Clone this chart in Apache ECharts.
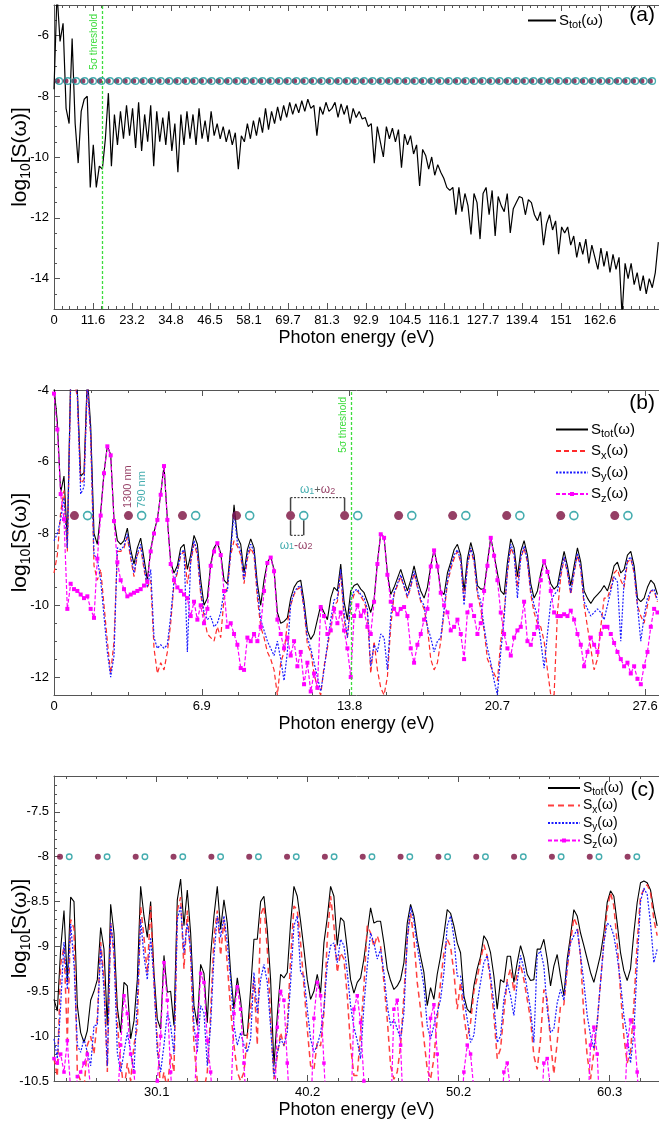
<!DOCTYPE html>
<html><head><meta charset="utf-8">
<script src="https://cdn.jsdelivr.net/npm/echarts@6/dist/echarts.min.js"></script>
<style>html,body{margin:0;padding:0;background:#fff}#c{width:659px;height:1129px}</style>
</head><body><div id="c"></div>
<script>
// ================= DATA =================
// photon energies of the two driving fields (eV)
const W1300 = 0.954, W790 = 1.569;
// ---- panel (a) : S_tot on an energy grid starting at 0, step aStep ----
const aStart = 0, aStep = 0.9;
const aTot = [-7.77,-4.6,-6.2,-5.6,-8.4,-8.9,-6.1,-8.9,-10.2,-8.5,
-8.1,-8.0,-11.0,-9.6,-11.0,-10.3,-10.4,-9.4,-7.9,-10.3,
-8.6,-9.6,-8.5,-9.4,-8.3,-9.3,-8.4,-9.7,-8.2,-9.8,
-8.6,-9.5,-8.3,-10.3,-8.5,-9.5,-8.7,-9.6,-8.5,-9.8,
-8.9,-10.5,-8.6,-9.6,-8.5,-9.4,-8.6,-9.6,-8.4,-9.4,
-8.8,-9.5,-8.5,-9.3,-8.9,-9.4,-9.0,-9.5,-9.1,-9.6,
-9.2,-10.4,-9.3,-9.5,-8.9,-9.4,-8.8,-9.3,-8.7,-9.2,
-8.4,-9.1,-8.5,-8.9,-8.35,-8.8,-8.3,-8.7,-8.2,-8.6,
-8.25,-8.55,-8.15,-8.5,-8.1,-8.4,-8.3,-9.3,-8.35,-8.6,
-8.2,-8.5,-8.4,-8.2,-8.7,-8.25,-8.6,-8.3,-8.9,-8.4,
-8.7,-8.5,-8.75,-8.7,-9.0,-8.9,-10.2,-9.0,-9.5,-10.0,
-9.0,-9.4,-9.05,-9.5,-9.1,-10.35,-9.25,-9.6,-9.3,-9.9,
-9.6,-10.95,-9.75,-9.95,-10.4,-10.0,-10.6,-10.25,-10.5,-10.7,
-11.0,-11.1,-11.0,-11.9,-11.0,-11.8,-11.2,-11.6,-12.55,-11.2,
-11.5,-12.7,-11.2,-11.0,-11.9,-11.1,-12.6,-11.3,-11.6,-11.8,
-11.2,-12.5,-11.7,-11.5,-11.3,-11.35,-11.9,-11.4,-11.5,-11.9,
-12.1,-11.8,-12.9,-12.2,-11.9,-12.4,-12.1,-13.2,-12.3,-12.5,
-12.3,-12.9,-12.6,-13.3,-12.8,-13.2,-12.7,-13.5,-12.9,-13.3,
-13.7,-13.0,-13.6,-13.1,-13.8,-13.2,-13.7,-13.3,-15.2,-13.5,
-14.0,-13.5,-14.2,-13.8,-14.4,-13.9,-14.5,-14.0,-14.3,-13.8,
-12.8];
const aThreshold = 14.5;
const aXTicks = [0,11.616,23.232,34.848,46.464,58.08,69.696,81.312,92.928,104.544,116.16,127.776,139.392,151.008,162.624];
const aXLabels = ['0','11.6','23.2','34.8','46.5','58.1','69.7','81.3','92.9','104.5','116.1','127.7','139.4','151','162.6'];
const aYTicks = [-14,-12,-10,-8,-6];
const aYLabels = ['-14','-12','-10','-8','-6'];

// ---- panel (b) ----
const bStart = 0, bStep = 0.15568;
const bTot = [-3.9,-4.9,-6.85,-6.4,-8.2,-3.6,-3.5,-4.0,-6.4,-6.3,
-3.6,-5.0,-8.0,-8.3,-7.4,-6.3,-5.55,-5.8,-7.6,-8.2,
-8.3,-8.2,-7.85,-8.45,-8.85,-8.4,-8.13,-8.7,-9.3,-8.45,
-7.95,-7.6,-6.9,-6.1,-7.6,-8.8,-9.1,-8.9,-8.4,-8.3,
-9.0,-8.6,-8.05,-8.3,-9.3,-10.0,-9.8,-8.85,-8.4,-8.25,
-8.55,-9.3,-9.4,-8.4,-7.2,-8.1,-8.3,-9.1,-8.45,-8.15,
-8.4,-9.4,-10.0,-9.3,-8.8,-8.65,-9.0,-10.2,-10.5,-10.45,
-10.35,-9.8,-9.5,-9.35,-9.3,-9.9,-10.7,-10.95,-10.8,-10.4,
-10.0,-10.2,-10.4,-9.8,-9.5,-9.6,-8.85,-9.9,-10.4,-9.6,
-9.45,-9.4,-9.55,-9.65,-9.9,-10.2,-9.85,-8.8,-8.0,-8.1,
-9.1,-9.7,-9.5,-9.25,-9.0,-9.3,-9.6,-9.3,-8.9,-9.3,
-9.6,-9.8,-9.5,-8.9,-8.45,-8.9,-9.6,-9.7,-9.1,-8.8,
-8.45,-8.3,-8.6,-9.6,-8.7,-8.25,-8.6,-9.45,-9.55,-9.55,
-8.8,-8.1,-8.6,-9.1,-9.6,-9.7,-8.8,-8.15,-8.4,-9.2,
-8.5,-8.2,-8.6,-9.4,-9.8,-9.6,-9.1,-8.75,-9.05,-9.4,
-9.55,-9.45,-8.95,-8.5,-8.9,-9.45,-8.9,-8.4,-8.8,-9.6,
-9.8,-9.95,-9.8,-9.7,-9.6,-9.45,-9.6,-9.3,-8.9,-8.8,
-9.1,-9.0,-8.6,-8.5,-8.9,-9.8,-9.9,-9.8,-9.5,-9.3,
-9.4,-9.7];
const bSx = [-9.1,-8.6,-7.4,-6.8,-8.5,-3.8,-3.7,-4.2,-6.6,-6.5,
-3.8,-5.3,-8.9,-9.3,-9.0,-10.0,-11.0,-11.9,-11.0,-8.5,
-8.5,-8.4,-8.1,-8.7,-9.2,-8.6,-8.4,-9.0,-9.5,-9.3,
-11.2,-11.9,-11.6,-11.8,-11.3,-10.5,-9.4,-9.1,-8.6,-8.5,
-9.4,-8.8,-8.3,-8.6,-9.7,-10.3,-10.8,-10.9,-11.0,-10.6,
-10.9,-9.8,-9.5,-8.6,-8.2,-8.35,-8.6,-9.4,-8.7,-8.4,
-8.6,-9.8,-10.6,-10.9,-11.3,-11.5,-11.8,-12.5,-11.6,-11.3,
-10.5,-10.0,-9.7,-9.55,-9.5,-10.1,-11.1,-11.3,-11.9,-12.3,
-12.5,-11.7,-11.2,-10.6,-10.0,-9.9,-9.1,-10.4,-10.9,-10.0,
-9.7,-9.6,-9.75,-9.9,-10.2,-11.9,-11.0,-11.8,-12.3,-12.5,
-12.0,-10.6,-9.7,-9.45,-9.2,-9.5,-9.8,-9.5,-9.1,-9.5,
-9.9,-10.1,-10.6,-11.5,-11.8,-11.6,-11.0,-10.2,-9.4,-9.0,
-8.7,-8.5,-8.8,-9.9,-8.9,-8.45,-8.8,-9.7,-10.1,-10.7,
-11.5,-11.7,-11.9,-12.1,-11.0,-10.2,-9.1,-8.4,-8.6,-9.5,
-8.7,-8.4,-8.8,-9.7,-10.2,-10.5,-10.6,-11.0,-11.8,-12.5,
-12.5,-10.2,-9.2,-8.7,-9.1,-9.7,-9.1,-8.6,-9.0,-10.0,
-10.6,-11.2,-11.8,-11.5,-10.6,-9.8,-9.8,-9.5,-9.1,-9.0,
-9.3,-9.5,-8.8,-8.7,-9.1,-10.0,-10.3,-10.5,-10.0,-9.6,
-9.6,-9.9];
const bSy = [-8.2,-8.0,-7.6,-7.0,-8.4,-3.8,-3.7,-4.1,-6.9,-6.7,
-3.8,-5.2,-8.6,-8.7,-9.3,-10.3,-11.3,-12.0,-11.4,-8.4,
-8.45,-8.35,-8.0,-8.6,-9.1,-8.55,-8.3,-8.9,-9.5,-9.0,
-10.9,-11.2,-11.1,-11.2,-11.1,-10.3,-9.3,-9.05,-8.55,-8.45,
-11.3,-8.75,-8.2,-8.5,-9.6,-10.2,-10.4,-10.3,-10.6,-10.5,
-10.2,-9.6,-9.6,-8.5,-7.4,-8.25,-8.5,-9.3,-8.6,-8.3,
-8.5,-9.6,-10.4,-10.7,-11.0,-11.2,-11.4,-11.0,-11.5,-12.1,
-11.3,-9.95,-9.65,-9.5,-9.45,-10.05,-10.9,-11.2,-11.6,-12.0,
-12.4,-11.8,-11.1,-10.4,-9.85,-9.8,-9.0,-10.2,-10.9,-9.85,
-9.6,-9.55,-9.7,-9.8,-10.1,-11.7,-11.1,-11.3,-10.8,-10.9,
-11.8,-10.3,-9.65,-9.4,-9.15,-9.45,-9.75,-9.45,-9.05,-9.45,
-9.85,-10.0,-10.6,-10.9,-11.3,-11.0,-10.9,-10.1,-9.3,-8.9,
-8.6,-8.45,-8.75,-10.0,-8.85,-8.4,-8.75,-9.6,-9.9,-10.6,
-11.2,-11.6,-12.1,-12.5,-11.3,-10.4,-9.0,-8.3,-8.55,-9.8,
-8.65,-8.35,-8.75,-9.6,-10.0,-10.3,-11.0,-11.75,-10.8,-9.9,
-9.7,-9.6,-9.1,-8.65,-9.05,-9.65,-9.05,-8.55,-8.95,-9.9,
-10.1,-10.3,-10.2,-10.1,-10.2,-10.4,-10.0,-9.6,-9.2,-9.35,
-11.0,-9.3,-8.75,-8.65,-9.05,-10.0,-11.0,-10.3,-9.8,-9.6,
-9.55,-9.85];
const bSz = [-4.1,-5.1,-6.9,-7.6,-10.1,-9.4,-9.55,-9.6,-9.7,-9.8,
-9.75,-10.1,-10.35,-8.7,-7.5,-6.32,-5.57,-5.82,-7.65,-8.8,
-9.3,-9.55,-9.75,-9.7,-9.65,-9.6,-9.55,-9.45,-9.35,-8.5,
-8.0,-7.62,-6.92,-6.12,-7.62,-8.85,-9.3,-9.5,-9.6,-9.7,
-9.8,-10.3,-9.9,-10.4,-10.0,-10.5,-10.1,-8.9,-8.5,-8.27,
-8.6,-9.6,-10.6,-10.5,-10.8,-11.1,-11.75,-11.8,-10.9,-11.0,
-10.8,-11.0,-10.6,-9.6,-8.82,-8.67,-9.05,-10.4,-10.8,-11.2,
-10.9,-11.4,-11.0,-11.7,-11.3,-12.2,-11.6,-12.4,-11.9,-12.3,
-10.05,-10.3,-10.8,-10.7,-10.1,-10.5,-10.2,-10.7,-11.2,-12.0,
-10.3,-10.0,-10.3,-10.15,-10.6,-10.8,-9.9,-8.85,-8.02,-8.12,
-9.15,-9.9,-10.1,-10.25,-10.1,-10.05,-10.3,-11.2,-11.6,-11.1,
-10.8,-10.4,-10.1,-8.92,-8.47,-8.92,-9.65,-10.0,-10.2,-10.7,
-10.6,-10.4,-10.8,-11.5,-10.2,-10.0,-10.3,-10.8,-10.5,-9.6,
-8.9,-8.12,-8.62,-9.3,-10.2,-10.8,-11.2,-11.4,-10.9,-10.7,
-10.6,-9.9,-11.0,-11.1,-10.8,-10.6,-9.3,-8.77,-9.07,-9.6,
-10.2,-10.3,-10.3,-10.25,-10.3,-10.15,-10.4,-10.8,-11.1,-11.7,
-11.3,-10.9,-11.1,-11.3,-10.8,-10.6,-10.6,-10.8,-11.05,-11.3,
-11.5,-11.7,-11.6,-11.9,-11.7,-12.05,-12.2,-11.7,-11.3,-10.6,
-10.1,-10.2];
const bThreshold = 13.86;
const bXTicks = [0,6.9,13.8,20.7,27.6];
const bXLabels = ['0','6.9','13.8','20.7','27.6'];
const bYTicks = [-12,-10,-8,-6,-4];
const bYLabels = ['-12','-10','-8','-6','-4'];

// ---- panel (c) ----
const cStart = 23.26, cStep = 0.2222;
const cTot = [-9.59,-9.72,-9.03,-8.6,-9.4,-8.45,-8.5,-9.66,-9.96,-10.07,
-9.94,-9.6,-9.5,-9.37,-8.79,-9.03,-9.88,-8.53,-8.85,-9.68,
-9.96,-9.4,-9.44,-10.03,-9.83,-9.37,-8.33,-8.66,-8.9,-8.5,
-9.29,-9.81,-9.92,-9.1,-9.51,-9.5,-9.88,-8.48,-8.25,-8.77,
-8.37,-8.85,-9.66,-9.88,-9.2,-9.3,-9.85,-9.1,-8.66,-8.33,
-8.81,-8.48,-8.74,-9.29,-9.7,-9.35,-9.6,-9.99,-9.99,-9.48,
-8.92,-8.92,-8.5,-8.44,-8.81,-9.37,-10.33,-9.77,-9.31,-9.35,
-9.29,-8.74,-8.33,-8.44,-8.72,-9.03,-9.37,-9.59,-9.5,-9.31,
-9.52,-8.96,-8.68,-8.33,-8.44,-8.99,-8.68,-8.72,-9.03,-9.37,
-9.52,-9.4,-9.35,-9.14,-8.85,-8.57,-8.74,-8.72,-8.72,-8.96,
-9.25,-9.38,-9.48,-9.44,-9.37,-9.18,-8.74,-8.53,-8.66,-8.92,
-9.11,-9.29,-9.66,-9.46,-9.59,-9.31,-9.11,-8.87,-8.59,-8.63,
-8.77,-8.96,-9.07,-9.55,-9.7,-9.74,-9.44,-9.25,-9.11,-8.88,
-8.94,-9.07,-9.33,-9.7,-9.37,-9.4,-9.11,-9.11,-9.4,-9.18,
-8.99,-9.12,-9.31,-9.38,-9.37,-9.03,-9.03,-8.92,-9.14,-9.44,
-9.22,-9.09,-9.33,-9.55,-9.14,-8.88,-8.59,-8.66,-8.85,-8.99,
-9.14,-9.29,-9.4,-9.25,-9.09,-8.85,-8.51,-8.38,-8.44,-8.74,
-9.07,-9.27,-9.38,-9.25,-8.85,-8.51,-8.29,-8.27,-8.29,-8.37,
-8.59,-8.77];
const cSx = [-10.25,-10.45,-9.2,-9.0,-10.05,-8.7,-8.8,-10.4,-10.5,-10.6,
-10.1,-10.0,-10.2,-9.8,-8.95,-9.35,-10.4,-8.74,-9.1,-9.85,
-10.3,-10.6,-10.3,-10.5,-10.1,-9.9,-8.55,-8.9,-9.3,-8.55,
-9.4,-10.05,-10.6,-10.4,-10.6,-10.2,-10.4,-8.6,-8.45,-9.25,
-8.6,-9.1,-10.1,-10.5,-10.7,-10.6,-10.4,-9.75,-8.9,-8.6,
-9.1,-8.7,-9.2,-9.7,-10.1,-10.4,-10.5,-10.4,-10.0,-9.7,
-9.35,-10.1,-8.65,-8.55,-9.03,-9.81,-10.48,-10.22,-9.96,-10.11,
-9.88,-9.14,-8.55,-8.59,-8.96,-9.44,-9.92,-10.33,-10.37,-10.07,
-10.11,-9.74,-8.92,-8.44,-8.77,-9.29,-9.07,-9.14,-9.55,-10.11,
-10.44,-10.44,-9.96,-9.44,-8.77,-8.85,-9.0,-8.88,-9.0,-9.4,
-9.81,-10.33,-10.48,-10.4,-10.11,-9.55,-8.92,-8.63,-8.92,-9.4,
-9.7,-10.03,-10.37,-10.48,-10.25,-9.81,-9.4,-9.07,-8.92,-9.0,
-9.29,-9.7,-9.4,-9.77,-10.03,-9.85,-9.5,-9.35,-9.15,-8.98,
-9.11,-9.4,-9.77,-10.25,-10.14,-9.74,-9.37,-9.25,-9.5,-9.3,
-9.2,-9.37,-9.59,-9.81,-10.22,-10.37,-10.03,-9.48,-9.59,-10.07,
-10.42,-10.07,-9.66,-9.65,-9.25,-8.95,-8.68,-8.77,-9.11,-9.77,
-10.22,-10.48,-10.18,-9.85,-9.4,-8.96,-8.59,-8.4,-8.55,-8.96,
-9.51,-10.0,-10.3,-10.18,-9.66,-8.96,-8.44,-8.37,-8.31,-8.4,
-8.7,-8.88];
const cSy = [-10.03,-10.25,-9.66,-8.95,-9.48,-8.75,-9.2,-10.1,-10.18,-10.03,
-10.18,-10.33,-9.88,-9.88,-9.0,-9.48,-10.33,-8.74,-9.03,-10.18,
-10.4,-10.18,-9.96,-10.18,-10.4,-9.59,-8.7,-9.11,-9.37,-8.9,
-9.37,-10.18,-10.4,-10.1,-9.74,-9.88,-10.2,-8.7,-8.55,-9.07,
-8.74,-9.03,-9.88,-10.18,-9.66,-9.74,-10.33,-9.88,-9.11,-8.66,
-8.9,-8.66,-8.96,-9.37,-9.88,-10.1,-9.96,-10.1,-10.18,-10.03,
-9.29,-9.74,-9.37,-9.2,-9.4,-9.9,-10.45,-10.18,-10.03,-10.1,
-9.96,-9.4,-8.77,-8.66,-9.29,-9.33,-9.7,-10.03,-10.18,-10.1,
-9.96,-9.7,-9.2,-8.99,-8.96,-9.18,-8.92,-8.99,-9.29,-9.66,
-9.9,-10.05,-10.25,-9.66,-9.22,-8.85,-8.96,-9.14,-9.03,-9.29,
-9.66,-9.88,-9.81,-9.92,-10.03,-9.74,-8.92,-8.56,-8.72,-9.0,
-9.22,-9.44,-9.88,-10.03,-9.88,-9.74,-9.59,-9.29,-8.77,-8.66,
-8.9,-9.33,-9.33,-9.6,-9.81,-10.07,-9.99,-9.63,-9.4,-9.18,
-9.1,-9.33,-9.63,-10.07,-10.0,-9.59,-9.4,-9.55,-9.77,-9.4,
-9.1,-9.25,-9.48,-9.7,-10.07,-9.1,-9.05,-9.22,-9.7,-9.96,
-9.92,-9.63,-9.48,-9.6,-9.2,-8.96,-8.88,-8.81,-9.1,-9.4,
-9.77,-9.99,-10.14,-9.85,-9.4,-8.96,-8.74,-8.77,-8.88,-9.11,
-9.4,-9.77,-9.99,-10.3,-9.96,-9.2,-8.5,-8.35,-8.42,-8.74,
-9.18,-9.03];
const cSz = [-10.25,-10.3,-10.2,-10.4,-10.05,-10.6,-11,-10.45,-10.4,-10.3,
-10.2,-10.6,-11,-11,-11,-11,-11,-11,-11,-10.8,
-10.1,-9.55,-9.75,-10.2,-10.4,-10.9,-11,-11,-11,-11,
-11,-10.5,-10.0,-9.18,-9.6,-10.4,-11,-11,-11,-11,
-11,-11,-10.8,-10.0,-9.3,-9.4,-10.05,-10.4,-11,-11,
-11,-11,-11,-10.8,-9.75,-9.45,-9.7,-10.3,-11,-11,
-11,-11,-11,-11,-11,-11,-11,-9.9,-9.5,-9.6,
-10.3,-11,-11,-11,-11,-11,-11,-11,-9.8,-9.4,
-9.55,-10.3,-11,-11,-11,-11,-11,-11,-11,-11,
-9.7,-9.55,-9.85,-10.5,-11,-11,-11,-11,-11,-11,
-11,-11,-9.7,-9.6,-10.1,-11,-11,-11,-11,-11,
-11,-11,-11,-9.8,-9.65,-10.2,-11,-11,-11,-11,
-11,-11,-11,-10.4,-10.1,-10.2,-10.6,-11,-11,-11,
-11,-11,-11,-11,-11,-10.4,-10.3,-10.6,-11,-11,
-11,-11,-11,-11,-11,-11,-11,-10.3,-10.25,-10.6,
-11,-11,-11,-11,-11,-11,-11,-11,-11,-11,
-11,-10.1,-9.9,-10.2,-11,-11,-11,-11,-11,-11,
-11,-11,-10.1,-9.82,-9.9,-10.4,-11,-11,-11,-11,
-11,-11];
const cXTicks = [30.11,40.176,50.242,60.308];
const cXLabels = ['30.1','40.2','50.2','60.3'];
const cYTicks = [-10.5,-10,-9.5,-9,-8.5,-8,-7.5];
const cYLabels = ['-10.5','-10','-9.5','-9','-8.5','-8','-7.5'];

// ================= BUILD =================
const FF = "'Liberation Sans', Arial, Helvetica, sans-serif";
const AX = '#555';
const MAROON = '#7a0f3e', TEAL = '#17999b', GREEN = '#3ddc3d';
const RED = '#ff2a2a', BLUE = '#1a1aff', MAG = '#ff00ff';

const zip = (start, step, ys) => ys.map((v, i) => [+(start + i * step).toFixed(4), v]);
const seq = (from, to, step) => { const r = []; for (let v = from; v <= to + 1e-9; v += step) r.push(+v.toFixed(4)); return r; };
function harm(base, kmin, kmax) { const r = []; for (let k = kmin; k <= kmax; k++) r.push(+(base + k * (W1300 + W790)).toFixed(3)); return r; }

const panels = [
  {min:0, max:180.2, ymin:-15, ymax:-5, xt:aXTicks, xl:aXLabels, xm:seq(0,180,11.616/5), yt:aYTicks, yl:aYLabels, ym:seq(-15,-5,0.5), top:5, h:304},
  {min:0, max:28.25, ymin:-12.5, ymax:-4, xt:bXTicks, xl:bXLabels, xm:seq(0,28.2,1.725), yt:bYTicks, yl:bYLabels, ym:seq(-12.5,-4,0.5), top:390, h:305},
  {min:23.26, max:63.6, ymin:-10.5, ymax:-7.1, xt:cXTicks, xl:cXLabels, xm:seq(24.07,63.5,2.0132), yt:cYTicks, yl:cYLabels, ym:seq(-10.5,-7.1,0.1), top:776, h:305}
];

const grids = [], xAxis = [], yAxis = [];
const nameRich = {
  a: {fontSize:21, lineHeight:26, fontFamily:FF, color:'#000'},
  s: {fontSize:14, lineHeight:14, verticalAlign:'bottom', fontFamily:FF, color:'#000'}
};
panels.forEach((p, g) => {
  grids.push({left:54, width:605, top:p.top, height:p.h, containLabel:false, outerBoundsMode:'none'});
  const base = {gridIndex:g, type:'value', min:p.min, max:p.max, splitLine:{show:false}};
  const lab = (v) => { let bi = 0; p.xt.forEach((t, i) => { if (Math.abs(t - v) < Math.abs(p.xt[bi] - v)) bi = i; }); return p.xl[bi]; };
  xAxis.push(Object.assign({}, base, {position:'bottom',
    axisLine:{show:true, onZero:false, lineStyle:{color:AX, width:1}},
    axisTick:{show:true, inside:true, length:6, customValues:p.xt, lineStyle:{color:AX}},
    axisLabel:{show:true, customValues:p.xt, formatter:lab, color:'#000', fontSize:13, fontFamily:FF, margin:5},
    name:'Photon energy (eV)', nameLocation:'middle', nameGap:20, nameMoveOverlap:false,
    nameTextStyle:{fontSize:18, color:'#000', fontFamily:FF}}));
  xAxis.push(Object.assign({}, base, {position:'bottom', axisLine:{show:false, onZero:false},
    axisTick:{show:true, inside:true, length:3, customValues:p.xm, lineStyle:{color:AX}}, axisLabel:{show:false}}));
  xAxis.push(Object.assign({}, base, {position:'top', axisLine:{show:true, onZero:false, lineStyle:{color:AX}},
    axisTick:{show:true, inside:true, length:6, customValues:p.xt, lineStyle:{color:AX}}, axisLabel:{show:false}}));
  xAxis.push(Object.assign({}, base, {position:'top', axisLine:{show:false, onZero:false},
    axisTick:{show:true, inside:true, length:3, customValues:p.xm, lineStyle:{color:AX}}, axisLabel:{show:false}}));
  const ybase = {gridIndex:g, type:'value', min:p.ymin, max:p.ymax, splitLine:{show:false}, position:'left'};
  const ylab = (v) => { let bi = 0; p.yt.forEach((t, i) => { if (Math.abs(t - v) < Math.abs(p.yt[bi] - v)) bi = i; }); return p.yl[bi]; };
  yAxis.push(Object.assign({}, ybase, {
    axisLine:{show:true, onZero:false, lineStyle:{color:AX}},
    axisTick:{show:true, inside:true, length:6, customValues:p.yt, lineStyle:{color:AX}},
    axisLabel:{show:true, customValues:p.yt, formatter:ylab, color:'#000', fontSize:13, fontFamily:FF, margin:5},
    name:'{a|log}{s|10}{a|[S(ω)]}', nameLocation:'middle', nameGap:21, nameRotate:90, nameMoveOverlap:false,
    nameTextStyle:{rich:nameRich, fontFamily:FF}}));
  yAxis.push(Object.assign({}, ybase, {axisLine:{show:false, onZero:false},
    axisTick:{show:true, inside:true, length:3, customValues:p.ym, lineStyle:{color:AX}}, axisLabel:{show:false}}));
});

const threshold = (x, d) => ({silent:true, symbol:['none','none'], animation:false,
  lineStyle:{color:GREEN, type:[3,2], width:1.3},
  label:{show:true, position:'insideEndTop', formatter:'5σ threshold', color:GREEN, fontSize:10, fontFamily:FF, distance:d},
  data:[{xAxis:x}]});

const series = [];
function line(g, name, data, style, extra) {
  series.push(Object.assign({type:'line', name, xAxisIndex:4 * g, yAxisIndex:2 * g, data, symbol:'none',
    clip:true, animation:false, z:3, lineStyle:style, itemStyle:{color:style.color}}, extra || {}));
}
// panel a
line(0, 'Stot_a', zip(aStart, aStep, aTot), {color:'#000', width:1.2}, {markLine:threshold(aThreshold, [9, 3])});
// panel b
line(1, 'Stot_b', zip(bStart, bStep, bTot), {color:'#000', width:1.1}, {markLine:threshold(bThreshold, [7, 3])});
line(1, 'Sx_b', zip(bStart, bStep, bSx), {color:RED, width:1.2, type:[5,3]});
line(1, 'Sy_b', zip(bStart, bStep, bSy), {color:BLUE, width:1.2, type:[2,1.5]});
line(1, 'Sz_b', zip(bStart, bStep, bSz), {color:MAG, width:1.2, type:[4,2]}, {symbol:'rect', symbolSize:4, showSymbol:true, itemStyle:{color:MAG}});
// panel c
line(2, 'Stot_c', zip(cStart, cStep, cTot), {color:'#000', width:1.1});
line(2, 'Sx_c', zip(cStart, cStep, cSx), {color:RED, width:1.5, type:[6,4], opacity:0.9});
line(2, 'Sy_c', zip(cStart, cStep, cSy), {color:BLUE, width:1.2, type:[2,1.5]});
line(2, 'Sz_c', zip(cStart, cStep, cSz), {color:MAG, width:1.2, type:[4,2]}, {symbol:'rect', symbolSize:3.5, showSymbol:true, itemStyle:{color:MAG}});

// harmonic marker rows
const dotRows = [
  {g:0, y:-7.5, kmax:70, size:5.5, ring:6.5, bw:1.3, kmin:0},
  {g:1, y:-7.5, kmax:10, size:9, ring:8, bw:1.6, kmin:0},
  {g:2, y:-8.0, kmax:24, size:6, ring:5.5, bw:1.4, kmin:9}
];
dotRows.forEach(r => {
  const filled = harm(W1300, r.kmin, r.kmax).map((x, k) => {
    const d = {value:[x, r.y]};
    if (r.g === 1 && k === 1) d.label = {show:true, position:'top', distance:3, rotate:90, align:'left', verticalAlign:'middle',
      formatter:'1300 nm', color:MAROON, fontSize:11, fontFamily:FF};
    return d;
  });
  const open = harm(W790, r.kmin, r.kmax).map((x, k) => {
    const d = {value:[x, r.y]};
    if (r.g === 1 && k === 1) d.label = {show:true, position:'top', distance:3, rotate:90, align:'left', verticalAlign:'middle',
      formatter:'790 nm', color:TEAL, fontSize:11, fontFamily:FF};
    return d;
  });
  series.push({type:'scatter', xAxisIndex:4 * r.g, yAxisIndex:2 * r.g, data:filled, symbol:'circle', symbolSize:r.size,
    itemStyle:{color:MAROON}, z:6, silent:true, animation:false});
  series.push({type:'scatter', xAxisIndex:4 * r.g, yAxisIndex:2 * r.g, data:open, symbol:'circle', symbolSize:r.ring,
    itemStyle:{color:'rgba(0,0,0,0)', borderColor:TEAL, borderWidth:r.bw}, z:7, silent:true, animation:false});
});

// bracket annotation in panel b (between harmonic k=4 and k=5)
const f4 = harm(W1300, 4, 4)[0], f5 = harm(W1300, 5, 5)[0], o4 = harm(W790, 4, 4)[0];
const bracketTop = -7.0, bracketBot = -8.05;
const segs = [
  [[f4, -7.37], [f4, bracketTop], 'solid'], [[f4, bracketTop], [f5, bracketTop], 'dotted'], [[f5, bracketTop], [f5, -7.37], 'solid'],
  [[f4, -7.63], [f4, bracketBot], 'solid'], [[f4, bracketBot], [o4, bracketBot], 'dotted'], [[o4, bracketBot], [o4, -7.63], 'solid']
];
segs.forEach(s => series.push({type:'line', xAxisIndex:4, yAxisIndex:2, data:[s[0], s[1]], symbol:'none', silent:true, animation:false, z:4,
  lineStyle: s[2] === 'solid' ? {color:'#444', width:1.5} : {color:'#222', width:1, type:[2,1.5]}}));
const annRich = {
  t:{fontSize:12, color:TEAL, fontFamily:FF}, ts:{fontSize:9, color:TEAL, fontFamily:FF, verticalAlign:'bottom', lineHeight:9},
  m:{fontSize:12, color:MAROON, fontFamily:FF}, ms:{fontSize:9, color:MAROON, fontFamily:FF, verticalAlign:'bottom', lineHeight:9},
  k:{fontSize:11, color:'#333', fontFamily:FF}
};
series.push({type:'scatter', xAxisIndex:4, yAxisIndex:2, symbolSize:0, silent:true, animation:false, z:8,
  data:[
    {value:[(f4 + f5) / 2, -6.78], label:{show:true, position:'inside', formatter:'{t|ω}{ts|1}{k|+}{m|ω}{ms|2}', rich:annRich}},
    {value:[(f4 + o4) / 2 - 0.05, -8.33], label:{show:true, position:'inside', formatter:'{t|ω}{ts|1}{m|-ω}{ms|2}', rich:annRich}}
  ]});

// legends
const legKey = n => n.split('_')[0];
const legTxt = {Stot:'{m|S}{s|tot}{m|(ω)}', Sx:'{m|S}{s|x}{m|(ω)}', Sy:'{m|S}{s|y}{m|(ω)}', Sz:'{m|S}{s|z}{m|(ω)}'};
const legRich = (fs) => ({m:{fontSize:fs, lineHeight:fs + 5, fontFamily:FF, color:'#000'},
  s:{fontSize:Math.round(fs * 0.72), lineHeight:Math.round(fs * 0.72), verticalAlign:'bottom', fontFamily:FF, color:'#000'}});
const legendBase = (fs) => ({orient:'vertical', itemHeight:5, formatter:n => legTxt[legKey(n)], selectedMode:false,
  textStyle:{rich:legRich(fs), fontFamily:FF, padding:[0,0,0,-2]}, padding:0});
const legItem = (n) => legKey(n) === 'Sz' ? {name:n} : {name:n, itemStyle:{opacity:0}};
const legend = [
  Object.assign(legendBase(15), {left:527, top:13, itemWidth:28, itemGap:0, data:['Stot_a'].map(legItem)}),
  Object.assign(legendBase(15), {left:555, top:422, itemWidth:32, itemGap:4, data:['Stot_b','Sx_b','Sy_b','Sz_b'].map(legItem)}),
  Object.assign(legendBase(14), {left:547, top:781, itemWidth:32, itemGap:1, data:['Stot_c','Sx_c','Sy_c','Sz_c'].map(legItem)})
];

const titleStyle = {fontSize:21, fontWeight:'normal', color:'#000', fontFamily:FF};
const title = [
  {text:'(a)', right:4, top:5, textStyle:titleStyle, padding:0},
  {text:'(b)', right:4, top:393, textStyle:titleStyle, padding:0},
  {text:'(c)', right:4, top:780, textStyle:titleStyle, padding:0}
];

const chart = echarts.init(document.getElementById('c'), null, {renderer:'canvas'});
chart.setOption({backgroundColor:'#fff', animation:false, textStyle:{fontFamily:FF},
  title, legend, grid:grids, xAxis, yAxis, series});
</script></body></html>
